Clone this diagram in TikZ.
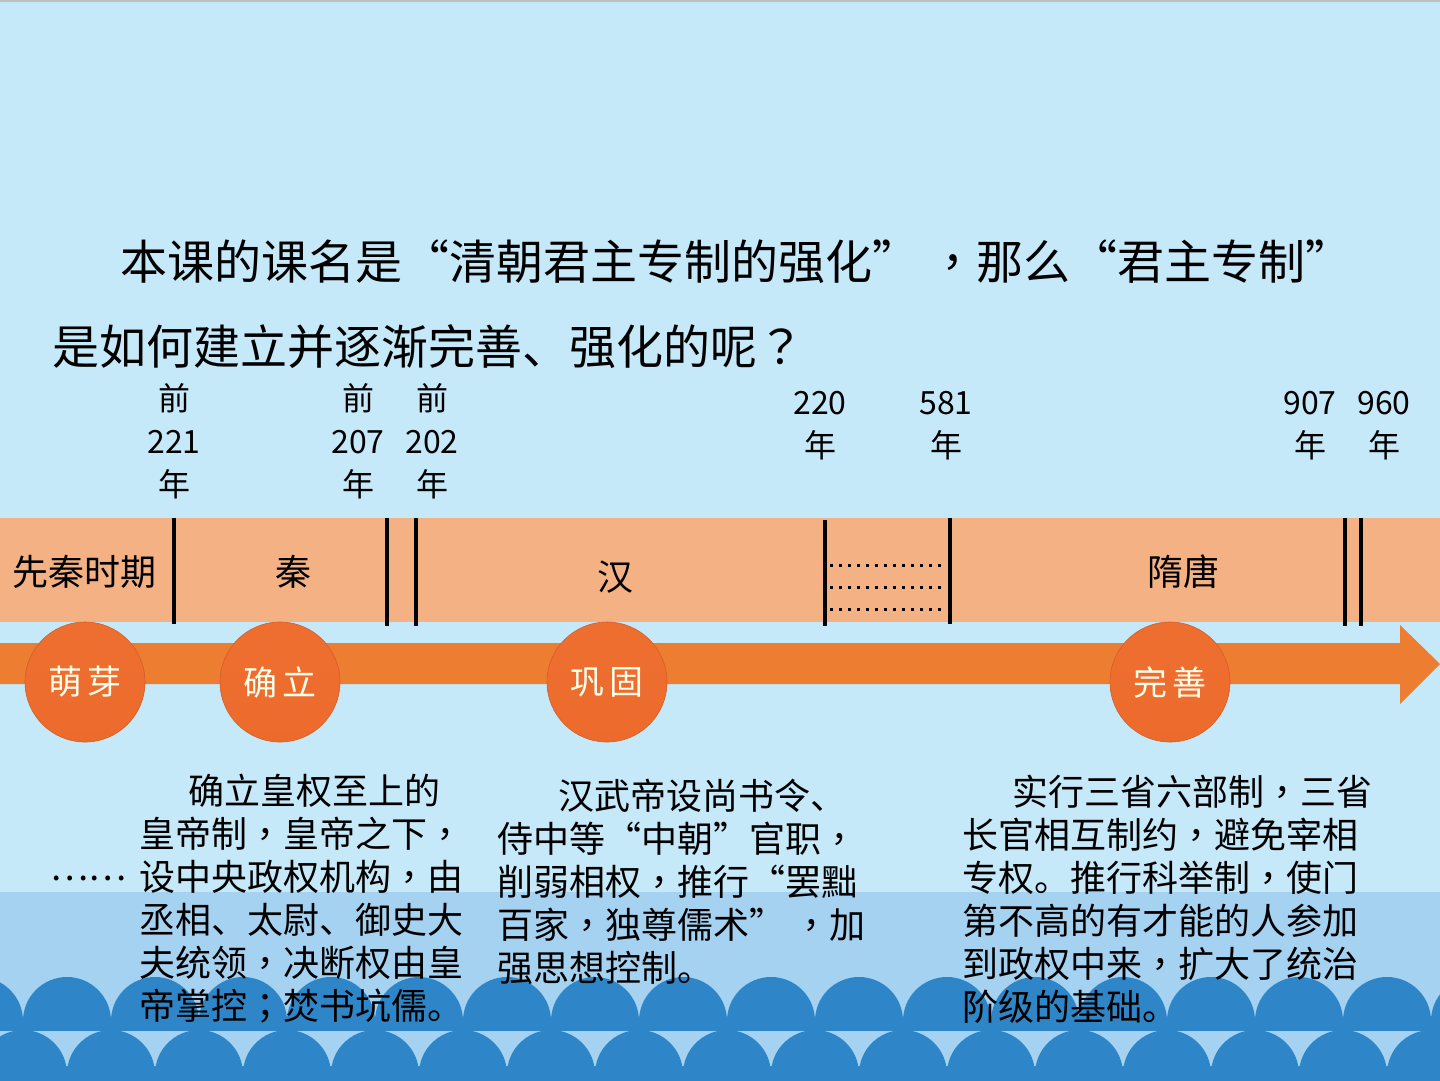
\documentclass[tikz,border=0pt]{standalone}
\usepackage{fontspec}
\setmainfont{Noto Sans CJK SC}
\newfontfamily\tcfont{Noto Sans CJK TC}
\newcommand\cma{{\tcfont ，}}
\newcommand\smc{{\tcfont ；}}
\newcommand\qmk{{\tcfont ？}}
\definecolor{bgtop}{HTML}{C6E9FA}
\definecolor{bgband}{HTML}{A6D2F2}
\definecolor{wavec}{HTML}{2E86C8}
\definecolor{bandc}{HTML}{F4B183}
\definecolor{arrowc}{HTML}{ED7D31}
\definecolor{ballA}{HTML}{EB692A}
\definecolor{ballB}{HTML}{EE6E2F}
\definecolor{ballC}{HTML}{F4A97F}
\pgfdeclareverticalshading{ballsh}{100bp}{color(0bp)=(ballA); color(60bp)=(ballB); color(84bp)=(ballB); color(100bp)=(ballC)}
\tikzset{
  tick/.style={line width=4pt, black},
  dotline/.style={line width=3pt, black, dash pattern=on 3pt off 6pt},
  stage/.style={circle, minimum size=120pt, inner sep=0pt, shading=ballsh, draw=ballA!90!black, line width=0.6pt, text=white!92!yellow, font=\fontsize{34}{34}\selectfont},
  datelab/.style={align=center, inner sep=0pt, font=\fontsize{32}{43}\selectfont},
  bandlab/.style={inner sep=0pt, font=\fontsize{36}{36}\selectfont},
  titlelab/.style={anchor=west, inner sep=0pt, font=\fontsize{47}{47}\selectfont},
  para/.style={anchor=north west, align=left, inner sep=0pt, font=\fontsize{36}{43}\selectfont}
}
\begin{document}
\begin{tikzpicture}[x=1pt,y=-1pt]
\useasboundingbox (0,0) rectangle (1440,1080);
% background
\fill[bgtop] (-5,-5) rectangle (1445,1085);
\fill[bgband] (-5,892) rectangle (1445,1085);
\fill[black!25] (-5,-5) rectangle (1445,2);
% waves
\begin{scope}
  \clip (-5,-5) rectangle (1445,1030);
  \foreach \k in {-1,...,16} \fill[wavec] ({67+88*\k},1021) circle (44);
\end{scope}
\fill[wavec] (-5,1021) rectangle (1445,1030);
\foreach \k in {-1,...,16} \fill[wavec] ({111+88*\k},1074) circle (44);
\fill[wavec] (-5,1066) rectangle (1445,1090);
% title
\node[titlelab] (t1) at (120,262) {本课的课名是“清朝君主专制的强化” \cma 那么“君主专制”};
\node[titlelab] (t2) at (52,347) {是如何建立并逐渐完善、强化的呢\qmk};
% dates
\node[datelab] (d221) at (174,441) {前\\221\\年};
\node[datelab] (d207) at (358,441) {前\\207\\年};
\node[datelab] (d202) at (432,441) {前\\202\\年};
\node[datelab] (d220) at (820,426) {220\\年};
\node[datelab] (d581) at (946,426) {581\\年};
\node[datelab] (d907) at (1310,426) {907\\年};
\node[datelab] (d960) at (1384,426) {960\\年};
% band
\fill[bandc] (-5,518) rectangle (1445,622);
\draw[tick] (174,518) -- (174,624);
\draw[tick] (387,518) -- (387,626);
\draw[tick] (416,518) -- (416,626);
\draw[tick] (825,520) -- (825,626);
\draw[tick] (950,518) -- (950,624);
\draw[tick] (1345,518) -- (1345,626);
\draw[tick] (1361,518) -- (1361,626);
\foreach \yy in {565,587,609} \draw[dotline] (830,\yy) -- (946,\yy);
\node[bandlab, anchor=west] (pre) at (12,572) {先秦时期};
\node[bandlab] (qin) at (293,572) {秦};
\node[bandlab] (han) at (615,577) {汉};
\node[bandlab] (suitang) at (1183,572) {隋唐};
% arrow
\fill[arrowc] (-5,643) -- (1400,643) -- (1400,625) -- (1440,664) -- (1400,704) -- (1400,684) -- (-5,684) -- cycle;
% stages
\node[stage] (s1) at (85,682) {萌\hspace{5pt}芽};
\node[stage] (s2) at (280,682) {确\hspace{5pt}立};
\node[stage] (s3) at (607,682) {巩\hspace{5pt}固};
\node[stage] (s4) at (1170,682) {完\hspace{5pt}善};
% paragraphs
\node[bandlab, anchor=west] (dots) at (50,878) {……};
\node[para] (p1) at (139,774) {\hspace*{49pt}确立皇权至上的\\皇帝制\cma 皇帝之下\cma\\设中央政权机构\cma 由\\丞相、太尉、御史大\\夫统领\cma 决断权由皇\\帝掌控\smc 焚书坑儒。};
\node[para] (p2) at (497,779) {\hspace*{61pt}汉武帝设尚书令、\\侍中等“中朝”官职\cma\\削弱相权\cma 推行“罢黜\\百家\cma 独尊儒术” \cma 加\\强思想控制。};
\node[para] (p3) at (962,775) {\hspace*{50pt}实行三省六部制\cma 三省\\长官相互制约\cma 避免宰相\\专权。推行科举制\cma 使门\\第不高的有才能的人参加\\到政权中来\cma 扩大了统治\\阶级的基础。};
\end{tikzpicture}
\end{document}
